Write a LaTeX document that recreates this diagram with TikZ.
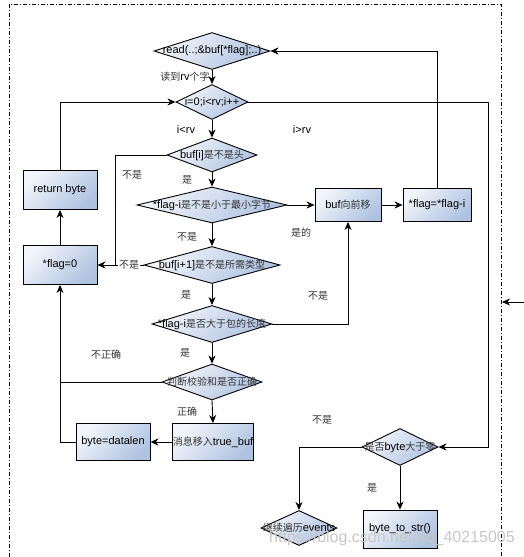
\documentclass[tikz,border=0pt]{standalone}
\usepackage{fontspec}
\setmainfont{Liberation Sans}
\newfontfamily\cjk{Noto Sans CJK SC}
\usetikzlibrary{shapes.geometric,arrows.meta}
\definecolor{bla}{HTML}{F2F5FB}
\definecolor{blb}{HTML}{AFC3E1}
\newcommand{\zh}[1]{{\cjk\fontsize{10}{12}\selectfont\color{black!80}#1}}
\tikzset{
  base/.style={draw=black, line width=0.9pt, top color=bla, bottom color=blb, shading angle=45, inner sep=0pt},
  boxn/.style={base, rectangle, minimum width=#1, minimum height=37pt, font=\fontsize{11}{13}\selectfont},
  dia/.style={base, diamond, inner sep=0pt},
  txt/.style={font=\fontsize{11}{13}\selectfont, inner sep=0pt},
  lab/.style={font=\fontsize{11}{13}\selectfont, inner sep=0pt},
  arr/.style={line width=0.9pt, -{Stealth[length=8pt,width=7pt,inset=2.5pt]}},
  ln/.style={line width=0.9pt},
  frame/.style={line width=0.8pt, dash pattern=on 4pt off 2pt on 1pt off 2pt},
  every label/.style={font=\fontsize{11}{13}\selectfont, inner sep=0pt}
}
\begin{document}
\begin{tikzpicture}[x=1pt,y=-1pt]
\useasboundingbox (0,0) rectangle (524,557);
% frame
\draw[frame] (9,557) -- (9,4) -- (501,4) -- (501,557);
% diamonds
\node[dia, minimum width=116pt, minimum height=37pt, label=center:{read(..;\&buf[*flag];..)}] (read) at (212,51) {};
\node[dia, minimum width=72pt, minimum height=35pt, label=center:{i=0;i<rv;i++}] (loop) at (212,102) {};
\node[dia, minimum width=90pt, minimum height=34pt, label=center:{buf[i]\zh{是不是头}}] (head) at (212,155) {};
\node[dia, minimum width=150pt, minimum height=36pt, label=center:{*flag-i\zh{是不是小于最小字节}}] (minb) at (212,205) {};
\node[dia, minimum width=136pt, minimum height=37pt, label=center:{buf[i+1]\zh{是不是所需类型}}] (type) at (212,265) {};
\node[dia, minimum width=120pt, minimum height=37pt, label=center:{*flag-i\zh{是否大于包的长度}}] (len) at (212,324) {};
\node[dia, minimum width=100pt, minimum height=36pt, label=center:{\zh{判断校验和是否正确}}] (chk) at (212,382) {};
\node[dia, minimum width=76pt, minimum height=37pt, label=center:{\zh{是否}byte\zh{大于零}}] (bytez) at (400,447) {};
\node[dia, minimum width=76pt, minimum height=35pt, label=center:{\zh{继续遍历}events}] (cont) at (299,528) {};
% boxes
\node[boxn=74pt, minimum height=39pt] (ret) at (60,190) {return byte};
\node[boxn=74pt, minimum height=39pt] (flag0) at (60,265) {*flag=0};
\node[boxn=66pt, minimum height=33pt] (bufmv) at (348,205) {buf\zh{向前移}};
\node[boxn=68pt, minimum height=33pt] (flagi) at (437,205) {*flag=*flag-i};
\node[boxn=74pt, minimum height=37pt] (mv) at (213,442) {\zh{消息移入}true\_buf};
\node[boxn=74pt, minimum height=37pt] (dl) at (113,442) {byte=datalen};
\node[boxn=74pt, minimum height=38pt] (b2s) at (400,529) {byte\_to\_str()};
% coordinates
\coordinate (rt) at (488,102);
\coordinate (j1) at (115,265);
\coordinate (j2) at (60,382);
\coordinate (ein) at (524,302);
\coordinate (eout) at (502,302);
% connectors
\draw[arr] (read.south) -- (loop.north);
\draw[arr] (ret.north) |- (loop.west);
\draw[ln] (loop.east) -- (rt);
\draw[arr] (rt) |- (bytez.east);
\draw[arr] (loop.south) -- (head.north);
\draw[ln] (head.west) -| (j1);
\draw[arr] (head.south) -- (minb.north);
\draw[arr] (minb.east) -- (bufmv.west);
\draw[arr] (minb.south) -- (type.north);
\draw[arr] (type.west) -- (flag0.east);
\draw[arr] (type.south) -- (len.north);
\draw[arr] (len.east) -| (bufmv.south);
\draw[arr] (bufmv.east) -- (flagi.west);
\draw[arr] (flagi.north) |- (read.east);
\draw[arr] (len.south) -- (chk.north);
\draw[ln] (chk.west) -- (j2);
\draw[arr] (chk.south) -- (mv.north);
\draw[arr] (mv.west) -- (dl.east);
\draw[arr] (dl.west) -| (flag0.south);
\draw[arr] (flag0.north) -- (ret.south);
\draw[arr] (bytez.west) -| (cont.north);
\draw[arr] (bytez.south) -- (b2s.north);
\draw[arr] (ein) -- (eout);
% labels
\node[lab] (l1) at (185,77) {\zh{读到}rv\zh{个字}};
\node[lab] (l2) at (186,130) {i<rv};
\node[lab] (l3) at (302,130) {i>rv};
\node[lab] (l4) at (132,175) {\zh{不是}};
\node[lab] (l5) at (187,180) {\zh{是}};
\node[lab] (l6) at (301,233) {\zh{是的}};
\node[lab] (l7) at (187,237) {\zh{不是}};
\node[lab, fill=white, inner sep=1pt] (l8) at (129,265) {\zh{不是}};
\node[lab] (l9) at (186,295) {\zh{是}};
\node[lab] (l10) at (318,296) {\zh{不是}};
\node[lab] (l11) at (106,355) {\zh{不正确}};
\node[lab] (l12) at (185,353) {\zh{是}};
\node[lab] (l13) at (187,412) {\zh{正确}};
\node[lab] (l14) at (322,420) {\zh{不是}};
\node[lab] (l15) at (372,488) {\zh{是}};
% watermark
\node[font=\fontsize{16}{18}\selectfont, text=black!22, inner sep=0pt] (wm) at (392,538) {https://blog.csdn.net/qq\_40215005};
\end{tikzpicture}
\end{document}
